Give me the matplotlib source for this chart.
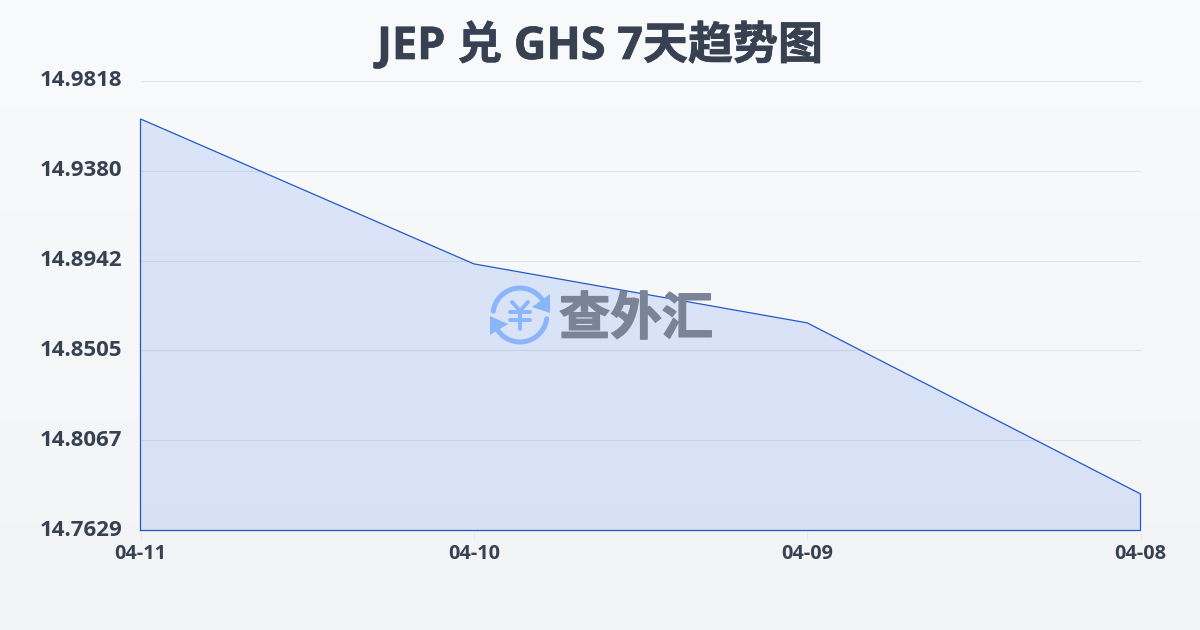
import matplotlib
matplotlib.use("Agg")
import matplotlib.pyplot as plt
import matplotlib.patheffects as pe
import numpy as np
from matplotlib.patches import Arc, Polygon

plt.rcParams["font.family"] = ["Open Sans", "Noto Sans CJK SC", "DejaVu Sans"]

dates = ["04-11", "04-10", "04-09", "04-08"]
rates = [14.9631, 14.8926, 14.8639, 14.7807]
y_ticks = [14.9818, 14.9380, 14.8942, 14.8505, 14.8067, 14.7629]

TEXT = "#374151"
LINE = "#2458c8"
ICON = "#8ab6f9"

fig = plt.figure(figsize=(12, 6.3), dpi=100)

# page background, very light vertical gradient
bg = fig.add_axes([0, 0, 1, 1], zorder=0)
top = np.array([248, 250, 252]) / 255
bottom = np.array([243, 244, 246]) / 255
grad = np.linspace(0, 1, 256)[:, None, None]
bg.imshow(top + (bottom - top) * grad, aspect="auto", extent=(0, 1200, 630, 0))
bg.axis("off")

ax = fig.add_axes([140.5 / 1200, 99.5 / 630, 1000 / 1200, 450 / 630], zorder=1)
ax.patch.set_alpha(0)
x = np.arange(len(dates))
ax.fill_between(x, rates, y_ticks[-1], color="#2563eb", alpha=0.135, lw=0)
ax.plot(
    [x[0], *x, x[-1], x[0]],
    [y_ticks[-1], *rates, y_ticks[-1], y_ticks[-1]],
    color=LINE, lw=0.9, solid_joinstyle="miter", clip_on=False,
)
ax.set_xlim(x[0], x[-1])
ax.set_ylim(y_ticks[-1], y_ticks[0])
ax.set_yticks(y_ticks)
ax.set_yticklabels([])
ax.set_xticks(x)
ax.set_xticklabels([])
ax.grid(axis="y", color="#e2e5eb", lw=0.8)
ax.set_axisbelow(True)
ax.tick_params(axis="y", length=0)
ax.tick_params(axis="x", length=7, width=0.7, color="#e8eaee")
for side in ax.spines.values():
    side.set_visible(False)

for tick in y_ticks:
    ax.annotate(f"{tick:.4f}", (0, tick), xycoords=("axes fraction", "data"),
                xytext=(-13, 0.3), textcoords="offset points", ha="right", va="center",
                fontsize=16, fontweight="bold", color=TEXT)
for pos, label in zip(x, dates):
    ax.annotate(label, (pos, 0), xycoords=("data", "axes fraction"),
                xytext=(0, -17), textcoords="offset points", ha="center", va="center",
                fontsize=14.3, fontweight="bold", color=TEXT)

fig.text(0.5, 1 - 46 / 630, "JEP 兑 GHS 7天趋势图", ha="center", va="center",
         fontsize=32.4, fontweight="bold", color=TEXT, zorder=5,
         path_effects=[pe.withStroke(linewidth=0.5, foreground=TEXT)])

# watermark, drawn in pixel coordinates on a clear overlay
wm = fig.add_axes([0, 0, 1, 1], zorder=3)
wm.set_xlim(0, 1200)
wm.set_ylim(630, 0)
wm.axis("off")
wm.add_patch(Arc((520, 315), 54, 54, theta1=188, theta2=325, color=ICON, lw=3.6, capstyle="round"))
wm.add_patch(Arc((520, 315), 54, 54, theta1=8, theta2=145, color=ICON, lw=3.6, capstyle="round"))
wm.add_patch(Polygon([[550, 294], [550, 313], [532, 307]], color=ICON, lw=0))
wm.add_patch(Polygon([[490, 316], [508, 324], [490, 335]], color=ICON, lw=0))
for xs, ys in [([512, 520, 528], [302, 311, 302]), ([510, 530], [312, 312]),
               ([510, 530], [320, 320]), ([520, 520], [311, 329])]:
    wm.plot(xs, ys, color=ICON, lw=2.8, solid_capstyle="round")
wm.text(636, 319, "查外汇", ha="center", va="center", family=["Noto Sans CJK SC"],
        fontsize=37, fontweight="bold", color="#7b8496",
        path_effects=[pe.withStroke(linewidth=1.0, foreground="#7b8496")])

fig.savefig("out.png", dpi=100)
plt.close(fig)
